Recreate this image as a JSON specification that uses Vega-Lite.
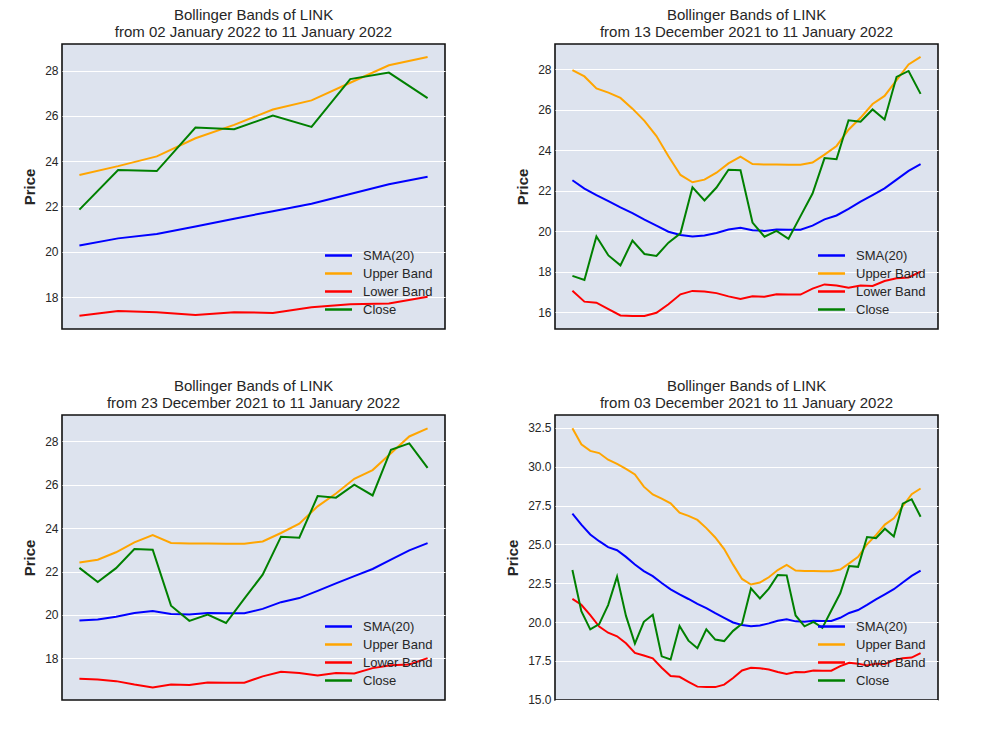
{
  "$schema": "https://vega.github.io/schema/vega-lite/v6.json",
  "padding": {"left": 21, "top": 6, "right": 10, "bottom": 10},
  "background": "white",
  "datasets": {
    "link": [
      {"day": 0, "date": "2021-12-03", "series": "SMA(20)", "price": 26.99},
      {"day": 1, "date": "2021-12-04", "series": "SMA(20)", "price": 26.28},
      {"day": 2, "date": "2021-12-05", "series": "SMA(20)", "price": 25.64},
      {"day": 3, "date": "2021-12-06", "series": "SMA(20)", "price": 25.21},
      {"day": 4, "date": "2021-12-07", "series": "SMA(20)", "price": 24.83},
      {"day": 5, "date": "2021-12-08", "series": "SMA(20)", "price": 24.63},
      {"day": 6, "date": "2021-12-09", "series": "SMA(20)", "price": 24.2},
      {"day": 7, "date": "2021-12-10", "series": "SMA(20)", "price": 23.71},
      {"day": 8, "date": "2021-12-11", "series": "SMA(20)", "price": 23.28},
      {"day": 9, "date": "2021-12-12", "series": "SMA(20)", "price": 22.96},
      {"day": 10, "date": "2021-12-13", "series": "SMA(20)", "price": 22.52},
      {"day": 11, "date": "2021-12-14", "series": "SMA(20)", "price": 22.11},
      {"day": 12, "date": "2021-12-15", "series": "SMA(20)", "price": 21.78},
      {"day": 13, "date": "2021-12-16", "series": "SMA(20)", "price": 21.49},
      {"day": 14, "date": "2021-12-17", "series": "SMA(20)", "price": 21.18},
      {"day": 15, "date": "2021-12-18", "series": "SMA(20)", "price": 20.9},
      {"day": 16, "date": "2021-12-19", "series": "SMA(20)", "price": 20.58},
      {"day": 17, "date": "2021-12-20", "series": "SMA(20)", "price": 20.28},
      {"day": 18, "date": "2021-12-21", "series": "SMA(20)", "price": 19.98},
      {"day": 19, "date": "2021-12-22", "series": "SMA(20)", "price": 19.82},
      {"day": 20, "date": "2021-12-23", "series": "SMA(20)", "price": 19.74},
      {"day": 21, "date": "2021-12-24", "series": "SMA(20)", "price": 19.79},
      {"day": 22, "date": "2021-12-25", "series": "SMA(20)", "price": 19.92},
      {"day": 23, "date": "2021-12-26", "series": "SMA(20)", "price": 20.09},
      {"day": 24, "date": "2021-12-27", "series": "SMA(20)", "price": 20.18},
      {"day": 25, "date": "2021-12-28", "series": "SMA(20)", "price": 20.05},
      {"day": 26, "date": "2021-12-29", "series": "SMA(20)", "price": 20.02},
      {"day": 27, "date": "2021-12-30", "series": "SMA(20)", "price": 20.09},
      {"day": 28, "date": "2021-12-31", "series": "SMA(20)", "price": 20.08},
      {"day": 29, "date": "2022-01-01", "series": "SMA(20)", "price": 20.08},
      {"day": 30, "date": "2022-01-02", "series": "SMA(20)", "price": 20.28},
      {"day": 31, "date": "2022-01-03", "series": "SMA(20)", "price": 20.59},
      {"day": 32, "date": "2022-01-04", "series": "SMA(20)", "price": 20.78},
      {"day": 33, "date": "2022-01-05", "series": "SMA(20)", "price": 21.11},
      {"day": 34, "date": "2022-01-06", "series": "SMA(20)", "price": 21.46},
      {"day": 35, "date": "2022-01-07", "series": "SMA(20)", "price": 21.79},
      {"day": 36, "date": "2022-01-08", "series": "SMA(20)", "price": 22.12},
      {"day": 37, "date": "2022-01-09", "series": "SMA(20)", "price": 22.55},
      {"day": 38, "date": "2022-01-10", "series": "SMA(20)", "price": 22.98},
      {"day": 39, "date": "2022-01-11", "series": "SMA(20)", "price": 23.31},
      {"day": 0, "date": "2021-12-03", "series": "Upper Band", "price": 32.48},
      {"day": 1, "date": "2021-12-04", "series": "Upper Band", "price": 31.45},
      {"day": 2, "date": "2021-12-05", "series": "Upper Band", "price": 31.02},
      {"day": 3, "date": "2021-12-06", "series": "Upper Band", "price": 30.88},
      {"day": 4, "date": "2021-12-07", "series": "Upper Band", "price": 30.45},
      {"day": 5, "date": "2021-12-08", "series": "Upper Band", "price": 30.18},
      {"day": 6, "date": "2021-12-09", "series": "Upper Band", "price": 29.86},
      {"day": 7, "date": "2021-12-10", "series": "Upper Band", "price": 29.5},
      {"day": 8, "date": "2021-12-11", "series": "Upper Band", "price": 28.72},
      {"day": 9, "date": "2021-12-12", "series": "Upper Band", "price": 28.22},
      {"day": 10, "date": "2021-12-13", "series": "Upper Band", "price": 27.95},
      {"day": 11, "date": "2021-12-14", "series": "Upper Band", "price": 27.64},
      {"day": 12, "date": "2021-12-15", "series": "Upper Band", "price": 27.05},
      {"day": 13, "date": "2021-12-16", "series": "Upper Band", "price": 26.84},
      {"day": 14, "date": "2021-12-17", "series": "Upper Band", "price": 26.58},
      {"day": 15, "date": "2021-12-18", "series": "Upper Band", "price": 26.05},
      {"day": 16, "date": "2021-12-19", "series": "Upper Band", "price": 25.45},
      {"day": 17, "date": "2021-12-20", "series": "Upper Band", "price": 24.7},
      {"day": 18, "date": "2021-12-21", "series": "Upper Band", "price": 23.7},
      {"day": 19, "date": "2021-12-22", "series": "Upper Band", "price": 22.78},
      {"day": 20, "date": "2021-12-23", "series": "Upper Band", "price": 22.42},
      {"day": 21, "date": "2021-12-24", "series": "Upper Band", "price": 22.55},
      {"day": 22, "date": "2021-12-25", "series": "Upper Band", "price": 22.89},
      {"day": 23, "date": "2021-12-26", "series": "Upper Band", "price": 23.35},
      {"day": 24, "date": "2021-12-27", "series": "Upper Band", "price": 23.68},
      {"day": 25, "date": "2021-12-28", "series": "Upper Band", "price": 23.32},
      {"day": 26, "date": "2021-12-29", "series": "Upper Band", "price": 23.29},
      {"day": 27, "date": "2021-12-30", "series": "Upper Band", "price": 23.29},
      {"day": 28, "date": "2021-12-31", "series": "Upper Band", "price": 23.28},
      {"day": 29, "date": "2022-01-01", "series": "Upper Band", "price": 23.28},
      {"day": 30, "date": "2022-01-02", "series": "Upper Band", "price": 23.39},
      {"day": 31, "date": "2022-01-03", "series": "Upper Band", "price": 23.78},
      {"day": 32, "date": "2022-01-04", "series": "Upper Band", "price": 24.21},
      {"day": 33, "date": "2022-01-05", "series": "Upper Band", "price": 25.01},
      {"day": 34, "date": "2022-01-06", "series": "Upper Band", "price": 25.6},
      {"day": 35, "date": "2022-01-07", "series": "Upper Band", "price": 26.28},
      {"day": 36, "date": "2022-01-08", "series": "Upper Band", "price": 26.68},
      {"day": 37, "date": "2022-01-09", "series": "Upper Band", "price": 27.46},
      {"day": 38, "date": "2022-01-10", "series": "Upper Band", "price": 28.23},
      {"day": 39, "date": "2022-01-11", "series": "Upper Band", "price": 28.6},
      {"day": 0, "date": "2021-12-03", "series": "Lower Band", "price": 21.5},
      {"day": 1, "date": "2021-12-04", "series": "Lower Band", "price": 21.12},
      {"day": 2, "date": "2021-12-05", "series": "Lower Band", "price": 20.45},
      {"day": 3, "date": "2021-12-06", "series": "Lower Band", "price": 19.72},
      {"day": 4, "date": "2021-12-07", "series": "Lower Band", "price": 19.32},
      {"day": 5, "date": "2021-12-08", "series": "Lower Band", "price": 19.09},
      {"day": 6, "date": "2021-12-09", "series": "Lower Band", "price": 18.64},
      {"day": 7, "date": "2021-12-10", "series": "Lower Band", "price": 18.02},
      {"day": 8, "date": "2021-12-11", "series": "Lower Band", "price": 17.85},
      {"day": 9, "date": "2021-12-12", "series": "Lower Band", "price": 17.67},
      {"day": 10, "date": "2021-12-13", "series": "Lower Band", "price": 17.07},
      {"day": 11, "date": "2021-12-14", "series": "Lower Band", "price": 16.53},
      {"day": 12, "date": "2021-12-15", "series": "Lower Band", "price": 16.48},
      {"day": 13, "date": "2021-12-16", "series": "Lower Band", "price": 16.16},
      {"day": 14, "date": "2021-12-17", "series": "Lower Band", "price": 15.85},
      {"day": 15, "date": "2021-12-18", "series": "Lower Band", "price": 15.82},
      {"day": 16, "date": "2021-12-19", "series": "Lower Band", "price": 15.82},
      {"day": 17, "date": "2021-12-20", "series": "Lower Band", "price": 15.98},
      {"day": 18, "date": "2021-12-21", "series": "Lower Band", "price": 16.4},
      {"day": 19, "date": "2021-12-22", "series": "Lower Band", "price": 16.89},
      {"day": 20, "date": "2021-12-23", "series": "Lower Band", "price": 17.06},
      {"day": 21, "date": "2021-12-24", "series": "Lower Band", "price": 17.03},
      {"day": 22, "date": "2021-12-25", "series": "Lower Band", "price": 16.95},
      {"day": 23, "date": "2021-12-26", "series": "Lower Band", "price": 16.79},
      {"day": 24, "date": "2021-12-27", "series": "Lower Band", "price": 16.66},
      {"day": 25, "date": "2021-12-28", "series": "Lower Band", "price": 16.79},
      {"day": 26, "date": "2021-12-29", "series": "Lower Band", "price": 16.77},
      {"day": 27, "date": "2021-12-30", "series": "Lower Band", "price": 16.89},
      {"day": 28, "date": "2021-12-31", "series": "Lower Band", "price": 16.88},
      {"day": 29, "date": "2022-01-01", "series": "Lower Band", "price": 16.88},
      {"day": 30, "date": "2022-01-02", "series": "Lower Band", "price": 17.17},
      {"day": 31, "date": "2022-01-03", "series": "Lower Band", "price": 17.38},
      {"day": 32, "date": "2022-01-04", "series": "Lower Band", "price": 17.33},
      {"day": 33, "date": "2022-01-05", "series": "Lower Band", "price": 17.21},
      {"day": 34, "date": "2022-01-06", "series": "Lower Band", "price": 17.33},
      {"day": 35, "date": "2022-01-07", "series": "Lower Band", "price": 17.3},
      {"day": 36, "date": "2022-01-08", "series": "Lower Band", "price": 17.55},
      {"day": 37, "date": "2022-01-09", "series": "Lower Band", "price": 17.68},
      {"day": 38, "date": "2022-01-10", "series": "Lower Band", "price": 17.72},
      {"day": 39, "date": "2022-01-11", "series": "Lower Band", "price": 18.01},
      {"day": 0, "date": "2021-12-03", "series": "Close", "price": 23.35},
      {"day": 1, "date": "2021-12-04", "series": "Close", "price": 20.71},
      {"day": 2, "date": "2021-12-05", "series": "Close", "price": 19.53},
      {"day": 3, "date": "2021-12-06", "series": "Close", "price": 19.87},
      {"day": 4, "date": "2021-12-07", "series": "Close", "price": 21.1},
      {"day": 5, "date": "2021-12-08", "series": "Close", "price": 22.93},
      {"day": 6, "date": "2021-12-09", "series": "Close", "price": 20.4},
      {"day": 7, "date": "2021-12-10", "series": "Close", "price": 18.62},
      {"day": 8, "date": "2021-12-11", "series": "Close", "price": 20.02},
      {"day": 9, "date": "2021-12-12", "series": "Close", "price": 20.48},
      {"day": 10, "date": "2021-12-13", "series": "Close", "price": 17.8},
      {"day": 11, "date": "2021-12-14", "series": "Close", "price": 17.6},
      {"day": 12, "date": "2021-12-15", "series": "Close", "price": 19.75},
      {"day": 13, "date": "2021-12-16", "series": "Close", "price": 18.81},
      {"day": 14, "date": "2021-12-17", "series": "Close", "price": 18.32},
      {"day": 15, "date": "2021-12-18", "series": "Close", "price": 19.54},
      {"day": 16, "date": "2021-12-19", "series": "Close", "price": 18.88},
      {"day": 17, "date": "2021-12-20", "series": "Close", "price": 18.78},
      {"day": 18, "date": "2021-12-21", "series": "Close", "price": 19.44},
      {"day": 19, "date": "2021-12-22", "series": "Close", "price": 19.9},
      {"day": 20, "date": "2021-12-23", "series": "Close", "price": 22.17},
      {"day": 21, "date": "2021-12-24", "series": "Close", "price": 21.52},
      {"day": 22, "date": "2021-12-25", "series": "Close", "price": 22.16},
      {"day": 23, "date": "2021-12-26", "series": "Close", "price": 23.04},
      {"day": 24, "date": "2021-12-27", "series": "Close", "price": 23.01},
      {"day": 25, "date": "2021-12-28", "series": "Close", "price": 20.43},
      {"day": 26, "date": "2021-12-29", "series": "Close", "price": 19.73},
      {"day": 27, "date": "2021-12-30", "series": "Close", "price": 20.02},
      {"day": 28, "date": "2021-12-31", "series": "Close", "price": 19.63},
      {"day": 29, "date": "2022-01-01", "series": "Close", "price": 20.75},
      {"day": 30, "date": "2022-01-02", "series": "Close", "price": 21.86},
      {"day": 31, "date": "2022-01-03", "series": "Close", "price": 23.61},
      {"day": 32, "date": "2022-01-04", "series": "Close", "price": 23.56},
      {"day": 33, "date": "2022-01-05", "series": "Close", "price": 25.48},
      {"day": 34, "date": "2022-01-06", "series": "Close", "price": 25.41},
      {"day": 35, "date": "2022-01-07", "series": "Close", "price": 26.01},
      {"day": 36, "date": "2022-01-08", "series": "Close", "price": 25.51},
      {"day": 37, "date": "2022-01-09", "series": "Close", "price": 27.62},
      {"day": 38, "date": "2022-01-10", "series": "Close", "price": 27.91},
      {"day": 39, "date": "2022-01-11", "series": "Close", "price": 26.78}
    ]
  },
  "data": {"name": "link"},
  "columns": 2,
  "spacing": {"column": 58, "row": 47},
  "concat": [
    {
      "title": {"text": ["Bollinger Bands of LINK", "from 02 January 2022 to 11 January 2022"]},
      "width": 383,
      "height": 285,
      "transform": [{"filter": "datum.day >= 30"}],
      "mark": {"type": "line", "strokeWidth": 2},
      "encoding": {
        "x": {"field": "day", "type": "quantitative", "scale": {"domain": [29.55, 39.45]}, "axis": null},
        "y": {"field": "price", "type": "quantitative", "scale": {"domain": [16.59, 29.17], "nice": false, "zero": false}, "axis": {"title": "Price", "values": [18, 20, 22, 24, 26, 28]}},
        "color": {"field": "series", "type": "nominal", "scale": {"domain": ["SMA(20)", "Upper Band", "Lower Band", "Close"], "range": ["#0000ff", "#ffa500", "#ff0000", "#008000"]}, "legend": {"title": null}}
      }
    },
    {
      "title": {"text": ["Bollinger Bands of LINK", "from 13 December 2021 to 11 January 2022"]},
      "width": 383,
      "height": 285,
      "transform": [{"filter": "datum.day >= 10"}],
      "mark": {"type": "line", "strokeWidth": 2},
      "encoding": {
        "x": {"field": "day", "type": "quantitative", "scale": {"domain": [8.55, 40.45]}, "axis": null},
        "y": {"field": "price", "type": "quantitative", "scale": {"domain": [15.18, 29.24], "nice": false, "zero": false}, "axis": {"title": "Price", "values": [16, 18, 20, 22, 24, 26, 28]}},
        "color": {"field": "series", "type": "nominal", "scale": {"domain": ["SMA(20)", "Upper Band", "Lower Band", "Close"], "range": ["#0000ff", "#ffa500", "#ff0000", "#008000"]}, "legend": {"title": null}}
      }
    },
    {
      "title": {"text": ["Bollinger Bands of LINK", "from 23 December 2021 to 11 January 2022"]},
      "width": 383,
      "height": 285,
      "transform": [{"filter": "datum.day >= 20"}],
      "mark": {"type": "line", "strokeWidth": 2},
      "encoding": {
        "x": {"field": "day", "type": "quantitative", "scale": {"domain": [19.05, 39.95]}, "axis": null},
        "y": {"field": "price", "type": "quantitative", "scale": {"domain": [16.08, 29.22], "nice": false, "zero": false}, "axis": {"title": "Price", "values": [18, 20, 22, 24, 26, 28]}},
        "color": {"field": "series", "type": "nominal", "scale": {"domain": ["SMA(20)", "Upper Band", "Lower Band", "Close"], "range": ["#0000ff", "#ffa500", "#ff0000", "#008000"]}, "legend": {"title": null}}
      }
    },
    {
      "title": {"text": ["Bollinger Bands of LINK", "from 03 December 2021 to 11 January 2022"]},
      "width": 383,
      "height": 285,
      "mark": {"type": "line", "strokeWidth": 2},
      "encoding": {
        "x": {"field": "day", "type": "quantitative", "scale": {"domain": [-1.95, 40.95]}, "axis": null},
        "y": {"field": "price", "type": "quantitative", "scale": {"domain": [14.99, 33.33], "nice": false, "zero": false}, "axis": {"title": "Price", "values": [15, 17.5, 20, 22.5, 25, 27.5, 30, 32.5], "format": ".1f"}},
        "color": {"field": "series", "type": "nominal", "scale": {"domain": ["SMA(20)", "Upper Band", "Lower Band", "Close"], "range": ["#0000ff", "#ffa500", "#ff0000", "#008000"]}, "legend": {"title": null}}
      }
    }
  ],
  "resolve": {
    "scale": {"x": "independent", "y": "independent", "color": "independent"},
    "axis": {"y": "independent"},
    "legend": {"color": "independent"}
  },
  "config": {
    "font": "Liberation Sans",
    "view": {"fill": "#dde3ee", "stroke": "#111111", "strokeWidth": 1.6},
    "title": {"fontSize": 15, "fontWeight": "normal", "color": "#262626", "lineHeight": 17.5, "offset": 4, "anchor": "middle"},
    "axis": {
      "ticks": false,
      "domain": false,
      "grid": true,
      "gridColor": "#ffffff",
      "gridWidth": 1,
      "labelFontSize": 12,
      "labelColor": "#262626",
      "labelPadding": 4,
      "titleFontSize": 15,
      "titleFontWeight": "bold",
      "titleColor": "#262626",
      "titlePadding": 7
    },
    "legend": {
      "orient": "bottom-right",
      "offset": 12,
      "symbolType": "M-3,0H3",
      "symbolSize": 81,
      "symbolStrokeWidth": 2.5,
      "labelFontSize": 13,
      "labelColor": "#262626",
      "labelOffset": 18,
      "rowPadding": 4
    }
  }
}
